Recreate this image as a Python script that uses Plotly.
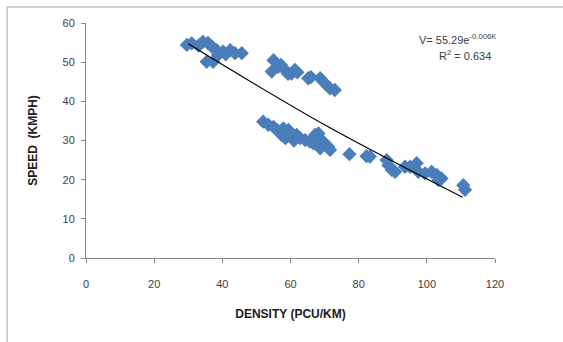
import plotly.graph_objects as go

density = [29.6, 31.0, 33.0, 34.3, 35.8, 36.9, 35.4, 37.3, 38.3, 38.7, 40.2, 41.0, 42.3, 43.7, 45.7,
           54.5, 55.0, 56.4, 57.2, 58.4, 59.3, 60.3, 61.3, 62.0, 65.2, 66.0, 68.7, 70.1, 71.6, 73.0,
           52.0, 53.5, 55.0, 56.0, 57.4, 57.9, 58.5, 59.4, 60.4, 61.0, 61.8, 62.8, 64.3, 65.7, 66.7,
           67.2, 68.2, 68.7, 69.6, 71.1, 71.6,
           77.3, 82.3, 83.3, 88.2, 88.7, 89.7, 90.7, 93.6, 95.1, 97.0, 97.5, 99.5, 101.4, 102.9,
           103.4, 104.3, 110.7, 111.2]
speed = [54.4, 54.8, 54.2, 55.2, 54.9, 54.0, 50.1, 50.1, 53.1, 51.8, 52.7, 52.0, 53.1, 52.3, 52.3,
         47.6, 50.5, 48.8, 49.3, 48.0, 47.0, 47.1, 48.0, 47.4, 45.9, 46.2, 45.9, 44.6, 43.3, 42.9,
         34.8, 34.0, 33.5, 32.7, 31.4, 33.1, 30.6, 32.7, 31.4, 30.0, 31.4, 30.6, 30.1, 29.7, 29.3,
         31.4, 31.8, 28.0, 29.7, 28.4, 27.6,
         26.5, 26.0, 25.9, 25.0, 23.7, 22.5, 22.0, 23.3, 23.3, 24.2, 22.0, 21.6, 22.0, 21.2,
         19.9, 20.3, 18.6, 17.4]

# Trendline as drawn in the chart (read at start, middle and end)
trend_x = [30.0, 70.0, 110.5]
trend_y = [54.7, 34.0, 15.5]

x_ticks = [0, 20, 40, 60, 80, 100, 120]
y_ticks = [0, 10, 20, 30, 40, 50, 60]

eq_text = "V= 55.29e<sup>-0.006K</sup>"
r2_text = "R<sup>2</sup> = 0.634"

fig = go.Figure()
fig.add_trace(go.Scatter(x=density, y=speed, mode="markers",
                         marker=dict(symbol="diamond", size=11, color="#4a7ebb"),
                         showlegend=False, hoverinfo="skip"))
fig.add_trace(go.Scatter(x=trend_x, y=trend_y, mode="lines",
                         line=dict(color="black", width=1.2, shape="spline"),
                         showlegend=False, hoverinfo="skip"))

axis_font = dict(family="Liberation Sans, Arial", size=11, color="#404040")
fig.update_layout(
    width=563, height=342,
    margin=dict(l=86, r=68, t=23, b=84),
    paper_bgcolor="white", plot_bgcolor="white",
    xaxis=dict(range=[0, 120], tickvals=x_ticks, showgrid=False, zeroline=False,
               showline=True, linecolor="#868686", linewidth=1,
               ticks="outside", ticklen=4, tickcolor="#868686",
               tickfont=axis_font, ticklabelstandoff=12,
               title=dict(text="<b>DENSITY (PCU/KM)</b>", standoff=20,
                          font=dict(family="Liberation Sans, Arial", size=12, color="#202020"))),
    yaxis=dict(range=[0, 60], tickvals=y_ticks, showgrid=False, zeroline=False,
               showline=True, linecolor="#868686", linewidth=1,
               ticks="outside", ticklen=4, tickcolor="#868686",
               tickfont=axis_font, ticklabelstandoff=4,
               title=dict(text="<b>SPEED  (KMPH)</b>", standoff=22,
                          font=dict(family="Liberation Sans, Arial", size=12, color="#202020"))),
    font=dict(family="Liberation Sans, Arial"),
)
fig.add_annotation(xref="paper", yref="paper", x=0.81, y=0.93, xanchor="left", yanchor="middle",
                   text=eq_text, showarrow=False,
                   font=dict(family="Liberation Sans, Arial", size=11, color="#404040"))
fig.add_annotation(xref="paper", yref="paper", x=0.858, y=0.865, xanchor="left", yanchor="middle",
                   text=r2_text, showarrow=False,
                   font=dict(family="Liberation Sans, Arial", size=11, color="#404040"))
# Outer chart-area border (left and top edges visible)
fig.add_shape(type="line", xref="paper", yref="paper", x0=-0.193, x1=1.2, y0=1.068, y1=1.068,
              line=dict(color="#a0a0a0", width=1))
fig.add_shape(type="line", xref="paper", yref="paper", x0=-0.193, x1=-0.193, y0=-0.4, y1=1.068,
              line=dict(color="#a0a0a0", width=1))

fig.write_html("out.html")
